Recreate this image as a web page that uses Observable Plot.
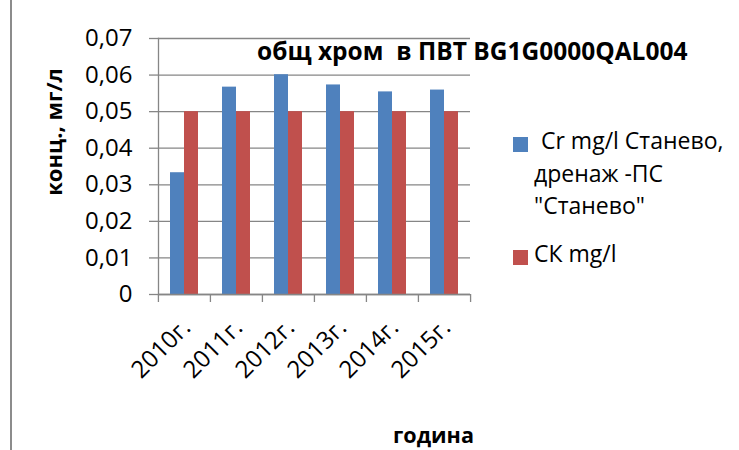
<!DOCTYPE html>
<html>
<head>
<meta charset="utf-8">
<script src="https://cdn.jsdelivr.net/npm/d3@7"></script>
<script src="https://cdn.jsdelivr.net/npm/@observablehq/plot@0.6"></script>
<style>
  html, body { margin: 0; padding: 0; background: #fff; }
  #chart { position: relative; width: 739px; height: 450px; overflow: hidden; font-family: "Open Sans", sans-serif; color: #000; }
  #chart svg { position: absolute; left: 0; top: 0; }
  .border { position: absolute; left: 10px; top: 0; width: 2px; height: 450px; background: #8c8c8c; }
  .title { position: absolute; left: 257px; top: 34px; font-weight: bold; font-size: 24.5px; line-height: 34px; white-space: pre; }
  .ylabel { position: absolute; left: 53px; top: 132px; font-weight: bold; font-size: 22px; line-height: 30px; white-space: pre; transform: translate(-50%, -50%) rotate(-90deg); }
  .xlabel { position: absolute; left: 393px; top: 420px; font-weight: bold; font-size: 21.6px; line-height: 30px; white-space: pre; }
  .legend { position: absolute; left: 513px; font-size: 23px; line-height: 32px; }
  .legend .sw { position: absolute; left: 0; width: 15px; height: 15px; }
  .legend .tx { position: absolute; white-space: pre; }
</style>
</head>
<body>
<div id="chart"></div>
<script>
const years = ["2010г.", "2011г.", "2012г.", "2013г.", "2014г.", "2015г."];
const crValues = [0.0333, 0.0567, 0.0601, 0.0573, 0.0554, 0.0559];
const skValues = [0.05, 0.05, 0.05, 0.05, 0.05, 0.05];
const seriesNames = ["Cr mg/l Станево, дренаж -ПС \"Станево\"", "СК mg/l"];
const seriesLegendLines = [["Cr mg/l Станево,", "дренаж -ПС", "\"Станево\""], ["СК mg/l"]];
const seriesColors = ["#4F81BD", "#C0504D"];
const yTicks = [0, 0.01, 0.02, 0.03, 0.04, 0.05, 0.06, 0.07];
const titleText = "общ хром  в ПВТ BG1G0000QAL004";
const yLabelText = "конц., мг/л";
const xLabelText = "година";

const data = years.flatMap((yr, i) => [
  {year: yr, series: seriesNames[0], value: crValues[i]},
  {year: yr, series: seriesNames[1], value: skValues[i]}
]);

const W = 739, H = 450, mL = 157, mR = 269, mT = 38, mB = 156;
const step = (W - mL - mR) / years.length;
const grey = "#868686";
const fmt = d => d === 0 ? "0" : d3.format(".2f")(d).replace(".", ",");

const plot = Plot.plot({
  width: W, height: H,
  marginLeft: mL, marginRight: mR, marginTop: mT, marginBottom: mB,
  style: {fontFamily: "Open Sans", fontSize: "24px", background: "transparent", color: "#000"},
  fx: {domain: years, padding: 0, label: null},
  x: {domain: seriesNames, paddingInner: 0, paddingOuter: 0.74, axis: null},
  y: {domain: [0, 0.07], label: null},
  color: {domain: seriesNames, range: seriesColors},
  marks: [
    Plot.gridY(yTicks, {stroke: grey, strokeOpacity: 1, strokeWidth: 1.3}),
    Plot.barY(data, {fx: "year", x: "series", y: "value", fill: "series"}),
    Plot.frame({anchor: "left", stroke: grey, strokeWidth: 1.3, facetAnchor: "left"}),
    Plot.ruleY([0], {stroke: grey, strokeWidth: 1.3}),
    Plot.axisY({ticks: yTicks, tickSize: 9, tickPadding: 17, tickFormat: fmt, stroke: grey, fill: "#000", strokeWidth: 1.3, label: null, fontSize: 24}),
    Plot.axisFx({anchor: "bottom", tickSize: 8, tickFormat: () => "", dx: -step / 2, stroke: grey, strokeWidth: 1.3, label: null}),
    Plot.axisFx({anchor: "bottom", ticks: [years[years.length - 1]], tickSize: 8, tickFormat: () => "", dx: step / 2, stroke: grey, strokeWidth: 1.3, label: null}),
    Plot.axisFx({anchor: "bottom", tickSize: 0, tickRotate: -45, tickPadding: 29, dx: 2, fill: "#000", label: null, fontSize: 24})
  ]
});

const chart = document.getElementById("chart");
chart.appendChild(plot);

function addDiv(cls, text, css) {
  const d = document.createElement("div");
  d.className = cls;
  if (text != null) d.textContent = text;
  if (css) Object.assign(d.style, css);
  chart.appendChild(d);
  return d;
}
addDiv("border");
addDiv("title", titleText);
addDiv("ylabel", yLabelText);
addDiv("xlabel", xLabelText);

const legendTops = [135, 248];
const legendTextX = [28, 21];
seriesNames.forEach((s, i) => {
  const g = addDiv("legend", null, {top: legendTops[i] + "px"});
  const sw = document.createElement("div");
  sw.className = "sw";
  sw.style.background = seriesColors[i];
  sw.style.top = "2px";
  g.appendChild(sw);
  seriesLegendLines[i].forEach((line, j) => {
    const t = document.createElement("div");
    t.className = "tx";
    t.textContent = line;
    t.style.left = (j === 0 ? legendTextX[i] : 21) + "px";
    t.style.top = (-11 + j * 32.5) + "px";
    g.appendChild(t);
  });
});
</script>
</body>
</html>
